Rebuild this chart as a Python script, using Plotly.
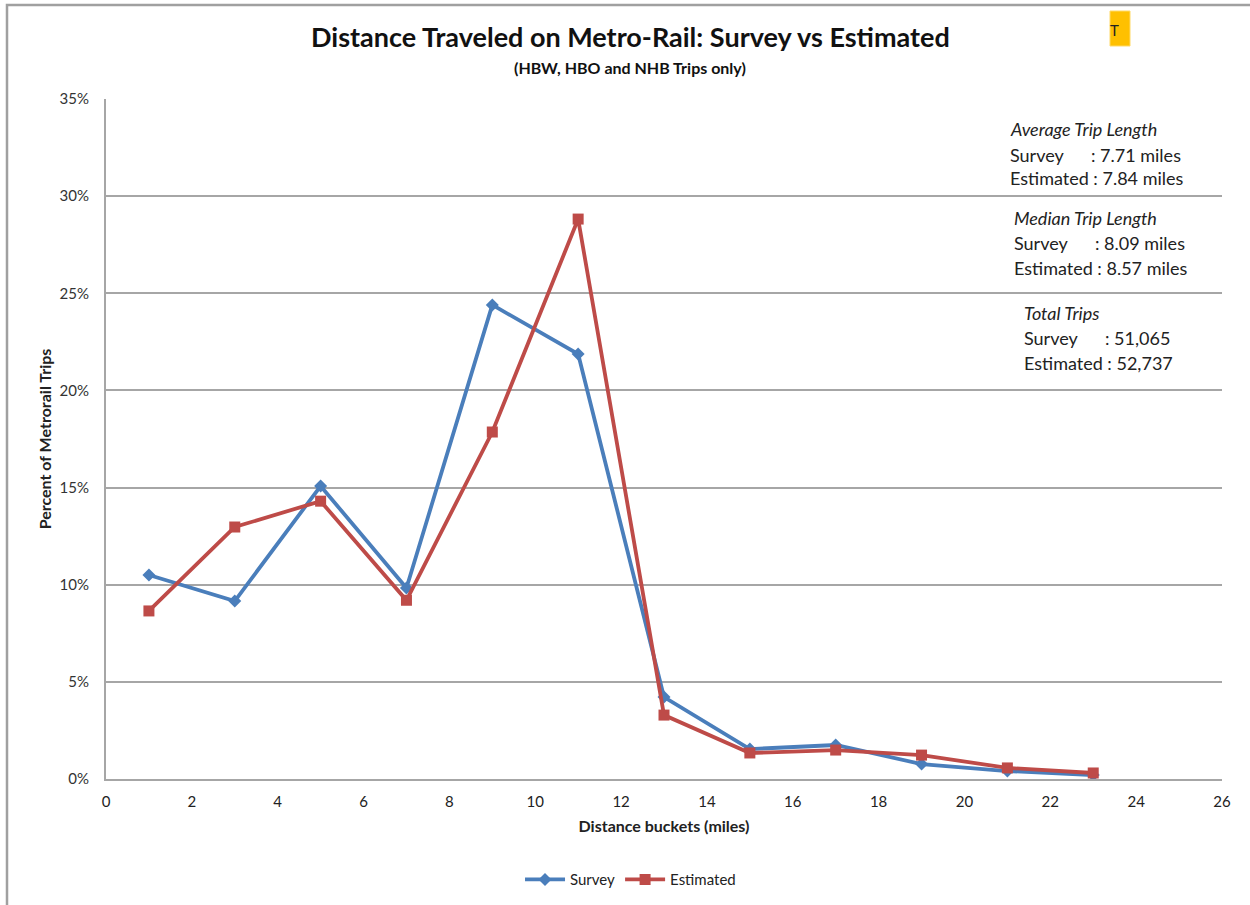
import plotly.graph_objects as go

# Distance bucket midpoints (miles)
distance = [1, 3, 5, 7, 9, 11, 13, 15, 17, 19, 21, 23]

# Share of Metro-Rail trips in each bucket (percent)
survey = [10.5, 9.16, 15.08, 9.83, 24.4, 21.87, 4.22, 1.54, 1.75, 0.77, 0.41, 0.2]
estimated = [8.65, 12.97, 14.3, 9.2, 17.86, 28.82, 3.29, 1.34, 1.49, 1.23, 0.57, 0.31]

x_ticks = list(range(0, 27, 2))
y_ticks = [0, 5, 10, 15, 20, 25, 30, 35]
y_tick_labels = [f"{v}%" for v in y_ticks]

BLUE = "#4A7EBB"
RED = "#BE4B48"
GRID = "#A6A6A6"
FONT = "Lato, 'Open Sans', sans-serif"

fig = go.Figure()
fig.add_trace(go.Scatter(
    x=distance, y=survey, name="Survey", mode="lines+markers",
    line=dict(color=BLUE, width=3.8),
    marker=dict(symbol="diamond", size=10, color=BLUE),
))
fig.add_trace(go.Scatter(
    x=distance, y=estimated, name="Estimated", mode="lines+markers",
    line=dict(color=RED, width=3.8),
    marker=dict(symbol="square", size=11, color=RED),
))

fig.update_layout(
    width=1250, height=905,
    margin=dict(l=106, r=28, t=99, b=126, autoexpand=False),
    paper_bgcolor="white", plot_bgcolor="white",
    font=dict(family=FONT, color="#222222", size=14),
    showlegend=True,
    legend=dict(orientation="h", x=0.47, xanchor="center", y=-0.148, yanchor="middle",
                font=dict(size=15, color="#222222"), itemwidth=40),
    xaxis=dict(
        range=[0, 26], tickvals=x_ticks, ticktext=[str(v) for v in x_ticks],
        showgrid=False, zeroline=False, showline=True, linecolor=GRID, linewidth=2,
        ticks="", tickfont=dict(size=15, color="#222222"), ticklabelstandoff=8,
        automargin=False,
        title=dict(text="<b>Distance buckets (miles)</b>", font=dict(size=16), standoff=12),
    ),
    yaxis=dict(
        range=[0, 35], tickvals=y_ticks, ticktext=y_tick_labels,
        showgrid=True, gridcolor=GRID, gridwidth=1.5, zeroline=False,
        showline=True, linecolor=GRID, linewidth=2, ticks="",
        tickfont=dict(size=15, color="#333333"), ticklabelstandoff=12,
        automargin=False,
        title=dict(text="<b>Percent of Metrorail Trips</b>", font=dict(size=16), standoff=4),
    ),
)

# Outer frame of the chart area
fig.add_shape(type="rect", xref="paper", yref="paper",
              x0=-99/1116, x1=1.05, y0=-0.3, y1=(905 - 5 - 126) / 680,
              line=dict(color="#A0A0A0", width=2.5), fillcolor="rgba(0,0,0,0)", layer="below")

# Title and subtitle
fig.add_annotation(text="<b>Distance Traveled on Metro-Rail: Survey vs Estimated</b>",
                   xref="paper", yref="paper", x=(630 - 106) / 1116, y=(779 - 36) / 680,
                   showarrow=False, font=dict(size=27, color="#111111"), xanchor="center", yanchor="middle")
fig.add_annotation(text="<b>(HBW, HBO and NHB Trips only)</b>",
                   xref="paper", yref="paper", x=(630 - 106) / 1116, y=(779 - 68) / 680,
                   showarrow=False, font=dict(size=16, color="#111111"), xanchor="center", yanchor="middle")

# Small highlighted marker box near the title
fig.add_shape(type="rect", xref="paper", yref="paper",
              x0=(1110 - 106) / 1116, x1=(1130 - 106) / 1116,
              y0=(779 - 46) / 680, y1=(779 - 11) / 680,
              fillcolor="#FFC000", line=dict(color="#FFD966", width=1))
fig.add_annotation(text="T", xref="paper", yref="paper",
                   x=(1108 - 106) / 1116, y=(779 - 30) / 680, showarrow=False,
                   xanchor="left", yanchor="middle", font=dict(size=15, color="#222222"))

# Trip length summary text
summary = [
    (1008, 129, "<i>Average Trip Length</i>"),
    (1008, 155, "Survey&nbsp;&nbsp;&nbsp;&nbsp;&nbsp;&nbsp;: 7.71 miles"),
    (1008, 178, "Estimated : 7.84 miles"),
    (1012, 218, "<i>Median Trip Length</i>"),
    (1012, 243, "Survey&nbsp;&nbsp;&nbsp;&nbsp;&nbsp;&nbsp;: 8.09 miles"),
    (1012, 268, "Estimated : 8.57 miles"),
    (1022, 313, "<i>Total Trips</i>"),
    (1022, 338, "Survey&nbsp;&nbsp;&nbsp;&nbsp;&nbsp;&nbsp;: 51,065"),
    (1022, 363, "Estimated : 52,737"),
]
for px, py, txt in summary:
    fig.add_annotation(text=txt, xref="paper", yref="paper",
                       x=(px - 106) / 1116, y=(779 - py) / 680, showarrow=False,
                       xanchor="left", yanchor="middle", bgcolor="white",
                       font=dict(size=18, color="#222222"))

fig.write_html("out.html")
